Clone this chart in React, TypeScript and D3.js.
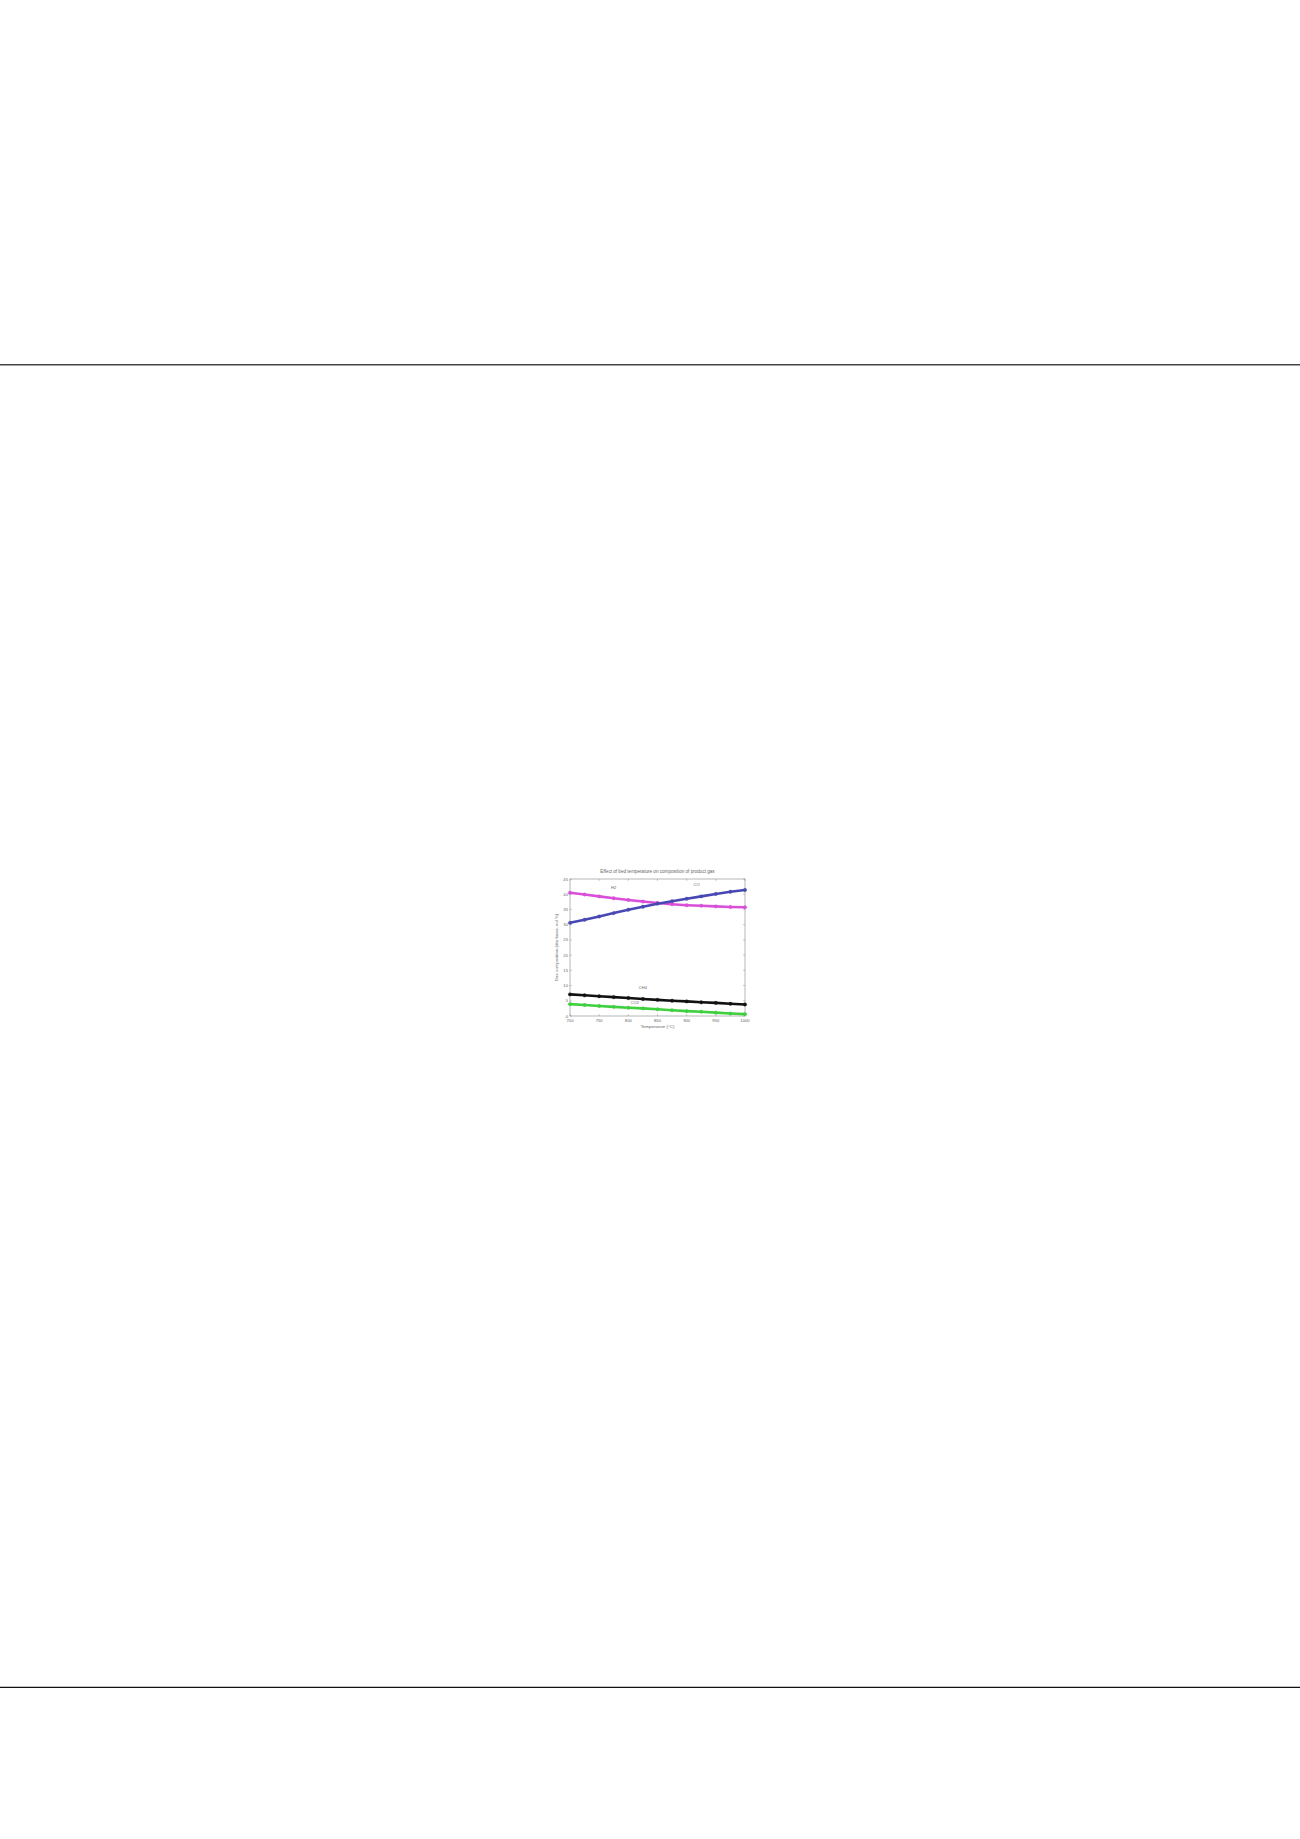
import React from "react";
import * as d3 from "d3";

const temperatures = [700, 725, 750, 775, 800, 825, 850, 875, 900, 925, 950, 975, 1000];
const h2Values = [40.5, 39.9, 39.3, 38.7, 38.1, 37.6, 37.1, 36.7, 36.4, 36.2, 36.0, 35.8, 35.7];
const coValues = [30.6, 31.6, 32.7, 33.8, 34.9, 35.9, 36.9, 37.7, 38.5, 39.3, 40.1, 40.8, 41.4];
const ch4Values = [7.1, 6.8, 6.5, 6.2, 5.9, 5.6, 5.3, 5.0, 4.8, 4.5, 4.3, 4.0, 3.8];
const co2Values = [3.9, 3.6, 3.3, 3.0, 2.7, 2.5, 2.2, 1.9, 1.6, 1.4, 1.1, 0.8, 0.6];
const xTicks = [700, 750, 800, 850, 900, 950, 1000];
const yTicks = [0, 5, 10, 15, 20, 25, 30, 35, 40, 45];

const series = [
  { name: "H2", values: h2Values, color: "#d94fd9", labelT: 775, labelV: 41.6 },
  { name: "CO", values: coValues, color: "#4848b4", labelT: 917, labelV: 42.8 },
  { name: "CH4", values: ch4Values, color: "#111111", labelT: 825, labelV: 8.9 },
  { name: "CO2", values: co2Values, color: "#3fcf3f", labelT: 811, labelV: 3.9 },
];

export default function App() {
  const left = 570, right = 745, top = 879, bottom = 1016;
  const x = d3.scaleLinear().domain([700, 1000]).range([left, right]);
  const y = d3.scaleLinear().domain([0, 45]).range([bottom, top]);
  const line = d3
    .line<number>()
    .x((_, i) => x(temperatures[i]))
    .y((v) => y(v));
  const font = "Liberation Sans, Arial, sans-serif";
  const textColor = "#666";
  return (
    <svg
      width={1300}
      height={1839}
      style={{ position: "absolute", left: 0, top: 0, background: "#fff" }}
    >
      <line x1={0} x2={1300} y1={364.8} y2={364.8} stroke="#444" strokeWidth={1.6} />
      <line x1={0} x2={1300} y1={1687.3} y2={1687.3} stroke="#111" strokeWidth={1.2} />

      <text x={(left + right) / 2} y={873} textAnchor="middle" fontSize={4.6} fontFamily={font} fill={textColor}>
        Effect of bed temperature on composition of product gas
      </text>

      <rect x={left} y={top} width={right - left} height={bottom - top} fill="#fff" stroke="#999" strokeWidth={0.7} />

      {yTicks.map((t) => (
        <g key={"y" + t}>
          <line x1={left} x2={left + 1.8} y1={y(t)} y2={y(t)} stroke="#999" strokeWidth={0.6} />
          <line x1={right} x2={right - 1.8} y1={y(t)} y2={y(t)} stroke="#999" strokeWidth={0.6} />
          <text x={left - 2} y={y(t) + 1.5} textAnchor="end" fontSize={4.2} fontFamily={font} fill={textColor}>
            {t}
          </text>
        </g>
      ))}
      {xTicks.map((t) => (
        <g key={"x" + t}>
          <line x1={x(t)} x2={x(t)} y1={bottom} y2={bottom - 1.8} stroke="#999" strokeWidth={0.6} />
          <line x1={x(t)} x2={x(t)} y1={top} y2={top + 1.8} stroke="#999" strokeWidth={0.6} />
          <text x={x(t)} y={bottom + 5.5} textAnchor="middle" fontSize={4.2} fontFamily={font} fill={textColor}>
            {t}
          </text>
        </g>
      ))}

      <text x={(left + right) / 2} y={1028} textAnchor="middle" fontSize={4.4} fontFamily={font} fill={textColor}>
        Temperature (°C)
      </text>
      <text
        transform={`translate(558, ${(top + bottom) / 2}) rotate(-90)`}
        textAnchor="middle"
        fontSize={4.4}
        fontFamily={font}
        fill={textColor}
      >
        Gas composition (dry basis, vol %)
      </text>

      {series.map((s) => (
        <g key={s.name}>
          <path d={line(s.values) || ""} fill="none" stroke={s.color} strokeWidth={2.6} strokeLinejoin="round" />
          {s.values.map((v, i) => (
            <circle key={i} cx={x(temperatures[i])} cy={y(v)} r={1.7} fill={s.color} stroke={s.color} strokeWidth={0.4} />
          ))}
        </g>
      ))}
      {series.map((s) => (
        <text
          key={"label-" + s.name}
          x={x(s.labelT)}
          y={y(s.labelV)}
          textAnchor="middle"
          fontSize={4.2}
          fontFamily={font}
          fill={textColor}
        >
          {s.name}
        </text>
      ))}
    </svg>
  );
}
